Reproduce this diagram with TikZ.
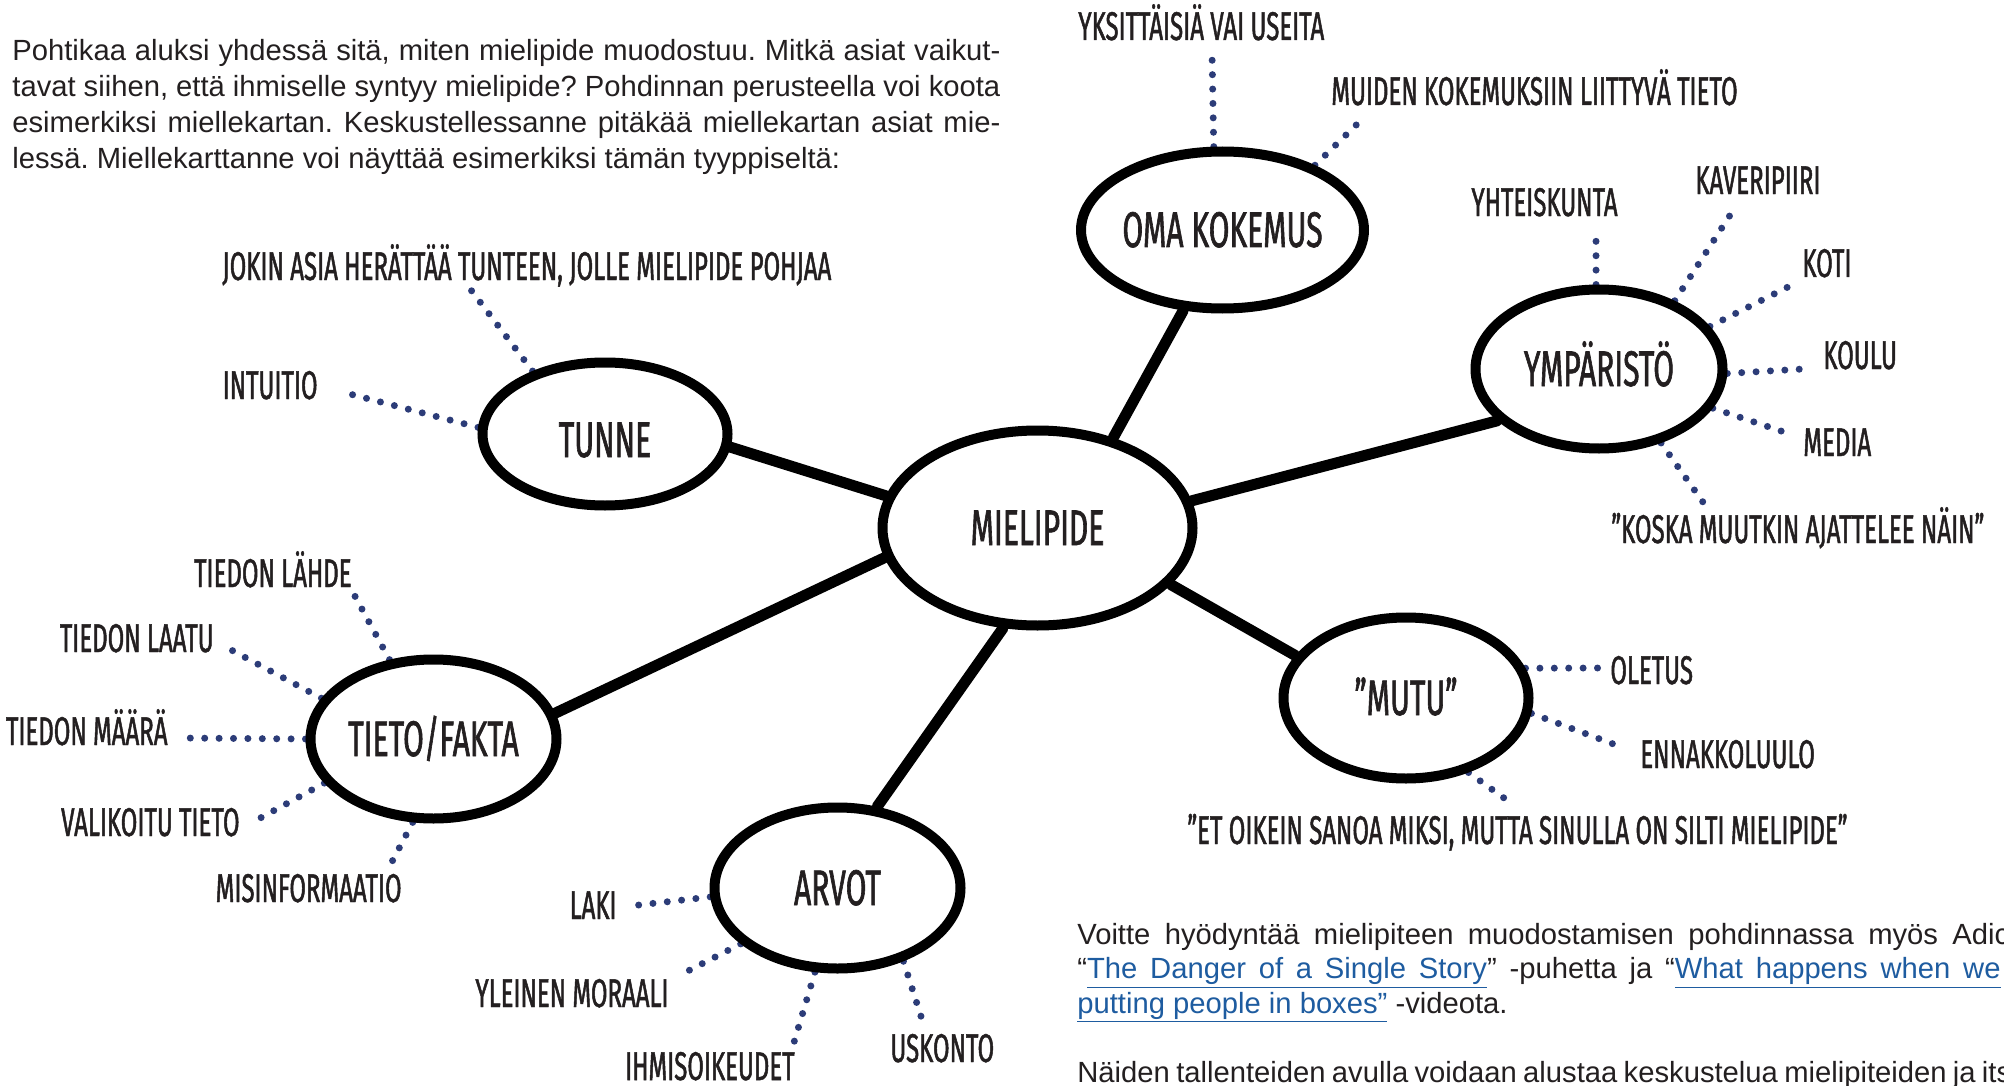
\documentclass[tikz,border=0pt]{standalone}
\usepackage{fontspec}
\setmainfont{Liberation Sans}
\newfontfamily\mapfont[FakeStretch=0.6,FakeBold=1.2]{Fira Sans}
\usetikzlibrary{shapes.geometric,backgrounds}
\frenchspacing

\definecolor{ink}{RGB}{35,31,32}
\definecolor{dotblue}{RGB}{44,60,120}
\definecolor{linkblue}{RGB}{30,92,160}

\newcommand\lnk[1]{\textcolor{linkblue}{\underline{#1}}}

\tikzset{
  bubble/.style={ellipse, draw=black, line width=5pt, fill=white, inner sep=0pt,
    text=ink, text height=17pt, text depth=0pt,
    font=\mapfont\fontsize{25}{27}\selectfont},
  tag/.style={inner sep=0pt, text height=14pt, text depth=0pt, text=ink,
    font=\mapfont\fontsize{20}{22}\selectfont},
  branch/.style={line width=5.5pt, line cap=round},
  dotlink/.style={draw=dotblue, line width=3.5pt, line cap=round, dash pattern=on 0pt off 7.2pt},
  prose/.style={inner sep=0pt, anchor=base west, text=ink, font=\fontsize{14.6}{17}\selectfont},
}

\begin{document}
\begin{tikzpicture}[x=0.5pt, y=-0.5pt]
\useasboundingbox (0,0) rectangle (2004,1086);

% text above the map
\node[prose] (intro1) at (12,61) {\makebox[494pt][s]{Pohtikaa aluksi yhdessä sitä, miten mielipide muodostuu. Mitkä asiat vaikut-}};
\node[prose] (intro2) at (12,97) {\makebox[494pt][s]{tavat siihen, että ihmiselle syntyy mielipide? Pohdinnan perusteella voi koota}};
\node[prose] (intro3) at (12,133) {\makebox[494pt][s]{esimerkiksi miellekartan. Keskustellessanne pitäkää miellekartan asiat mie-}};
\node[prose] (intro4) at (12,169) {lessä. Miellekarttanne voi näyttää esimerkiksi tämän tyyppiseltä:};

% the bubbles
\node[bubble, minimum width=155pt, minimum height=97.5pt] (mielipide) at (1037.5,528) {MIELIPIDE};
\node[bubble, minimum width=122.5pt, minimum height=71.5pt] (tunne) at (605,434) {\raisebox{-3pt}{TUNNE}};
\node[bubble, minimum width=122pt, minimum height=78.5pt] (oma) at (1222.5,230) {OMA KOKEMUS};
\node[bubble, minimum width=123.5pt, minimum height=79.5pt] (ymparisto) at (1599,369) {YMPÄRISTÖ};
\node[bubble, minimum width=122.5pt, minimum height=80.5pt] (mutu) at (1406,698) {”MUTU”};
\node[bubble, minimum width=123pt, minimum height=80.5pt] (arvot) at (837.5,888) {ARVOT};
\node[bubble, minimum width=123pt, minimum height=79.5pt] (tieto) at (433.5,739) {TIETO/FAKTA};

% labels
\node[tag, anchor=west] (jokin) at (222,266) {JOKIN ASIA HERÄTTÄÄ TUNTEEN, JOLLE MIELIPIDE POHJAA};
\node[tag, anchor=east] (intuitio) at (318,385) {INTUITIO};
\node[tag, anchor=east] (lahde) at (352,573) {TIEDON LÄHDE};
\node[tag, anchor=east] (laatu) at (214,638) {TIEDON LAATU};
\node[tag, anchor=east] (maara) at (168,731) {TIEDON MÄÄRÄ};
\node[tag, anchor=east] (valikoitu) at (240,822) {VALIKOITU TIETO};
\node[tag, anchor=east] (misinfo) at (402,888) {MISINFORMAATIO};
\node[tag, anchor=east] (laki) at (617,905) {LAKI};
\node[tag, anchor=east] (moraali) at (669,993) {YLEINEN MORAALI};
\node[tag, anchor=east] (ihmis) at (795,1066) {IHMISOIKEUDET};
\node[tag, anchor=west] (uskonto) at (890,1048) {USKONTO};
\node[tag, anchor=west] (oletus) at (1610,670) {OLETUS};
\node[tag, anchor=west] (ennakko) at (1640,754) {ENNAKKOLUULO};
\node[tag] (etoikein) at (1517.5,830) {”ET OIKEIN SANOA MIKSI, MUTTA SINULLA ON SILTI MIELIPIDE”};
\node[tag, anchor=east] (yhteis) at (1618,202) {YHTEISKUNTA};
\node[tag, anchor=west] (kaveri) at (1695,180) {KAVERIPIIRI};
\node[tag, anchor=west] (koti) at (1802,263) {KOTI};
\node[tag, anchor=west] (koulu) at (1823,355) {KOULU};
\node[tag, anchor=west] (media) at (1803,442) {MEDIA};
\node[tag, anchor=west] (koska) at (1611,529) {”KOSKA MUUTKIN AJATTELEE NÄIN”};
\node[tag, anchor=west] (yksi) at (1078,26) {YKSITTÄISIÄ VAI USEITA};
\node[tag, anchor=west] (muiden) at (1331,91) {MUIDEN KOKEMUKSIIN LIITTYVÄ TIETO};

% text below the map
\node[prose] (video1) at (1077,944) {\makebox[466pt][s]{Voitte hyödyntää mielipiteen muodostamisen pohdinnassa myös Adic}};
\node[prose] (video2) at (1077,978.5) {\spaceskip=6.4pt\relax “\lnk{The Danger of a Single Story}” -puhetta ja “\lnk{What happens when we}};
\node[prose] (video3) at (1077,1013) {\lnk{putting people in boxes”} -videota.};
\node[prose] (talle) at (1077,1082) {\makebox[467pt][s]{Näiden tallenteiden avulla voidaan alustaa keskustelua mielipiteiden ja its}};

\begin{scope}[on background layer]
\fill[white] (0,0) rectangle (2004,1086);
% thick branches
\draw[branch] (mielipide.168) -- (tunne.-6);
\draw[branch] (mielipide.191) -- (tieto.12);
\draw[branch] (mielipide.251) -- (arvot.64);
\draw[branch] (mielipide.337) -- (mutu.159);
\draw[branch] (mielipide.10) -- (ymparisto.207);
\draw[branch] (mielipide.50) -- (oma.244);
% dotted twigs
\draw[dotlink] (tunne.139) -- ([xshift=123.5pt,yshift=-3.5pt]jokin.south west);
\draw[dotlink] (tunne.177) -- ([xshift=14pt,yshift=-4pt]intuitio.east);
\draw[dotlink] (tieto.119) -- ([xshift=1pt,yshift=-3.5pt]lahde.south east);
\draw[dotlink] (tieto.160) -- ([xshift=4pt,yshift=-3.5pt]laatu.east);
\draw[dotlink] (tieto.180) -- ([xshift=7pt,yshift=-3.5pt]maara.east);
\draw[dotlink] (tieto.202) -- ([xshift=6.5pt]valikoitu.east);
\draw[dotlink] (tieto.256) -- ([xshift=-5.5pt,yshift=5pt]misinfo.north east);
\draw[dotlink] (arvot.184) -- ([xshift=6.5pt,yshift=-0.5pt]laki.east);
\draw[dotlink] (arvot.210) -- ([xshift=4pt,yshift=1pt]moraali.north east);
\draw[dotlink] (arvot.255) -- ([xshift=-1pt,yshift=3pt]ihmis.north east);
\draw[dotlink] (arvot.312) -- ([xshift=16.5pt,yshift=5.5pt]uskonto.north west);
\draw[dotlink] (mutu.14) -- ([xshift=-6pt,yshift=1pt]oletus.west);
\draw[dotlink] (mutu.353) -- ([xshift=-8pt,yshift=3pt]ennakko.west);
\draw[dotlink] (mutu.310) -- ([xshift=-4.25pt,yshift=7pt]etoikein.north);
\draw[dotlink] (ymparisto.92) -- ([xshift=-11pt,yshift=-6pt]yhteis.south east);
\draw[dotlink] (ymparisto.42) -- ([xshift=21pt,yshift=-5pt]kaveri.south west);
\draw[dotlink] (ymparisto.21) -- ([xshift=-1.5pt,yshift=-2pt]koti.south west);
\draw[dotlink] (ymparisto.358) -- ([xshift=-10pt,yshift=-7pt]koulu.west);
\draw[dotlink] (ymparisto.341) -- ([xshift=-6.5pt,yshift=4pt]media.west);
\draw[dotlink] (ymparisto.310) -- ([xshift=46.5pt,yshift=5.5pt]koska.north west);
\draw[dotlink] (oma.96) -- ([xshift=67pt,yshift=-6pt]yksi.south west);
\draw[dotlink] (oma.35) -- ([xshift=17.5pt,yshift=-5pt]muiden.south west);
\end{scope}
\end{tikzpicture}
\end{document}
